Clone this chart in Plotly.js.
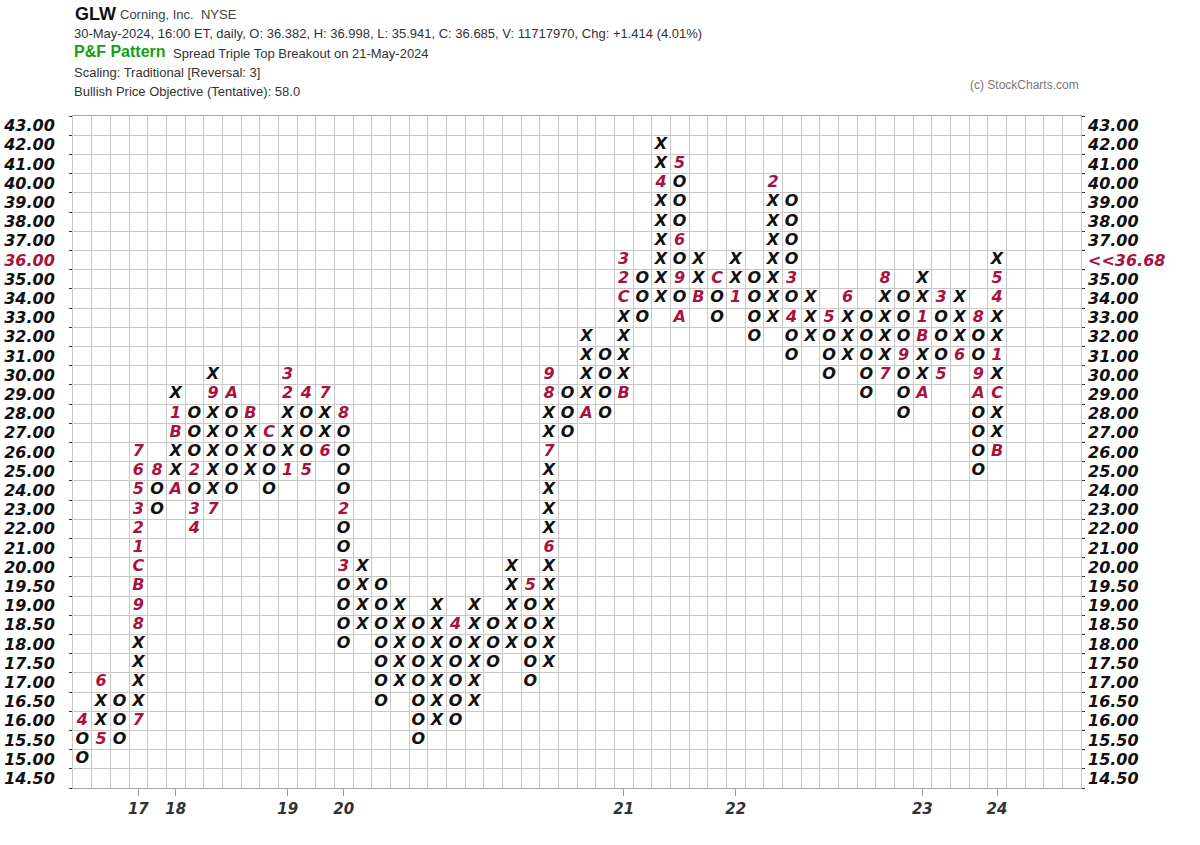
<!DOCTYPE html>
<html>
<head>
<meta charset="utf-8">
<script src="https://cdn.plot.ly/plotly-3.0.1.min.js"></script>
<style>html,body{margin:0;padding:0;background:#fff;}#chart{width:1200px;height:845px;}</style>
</head>
<body>
<div id="chart"></div>
<script>
// ---- Data ----
// Box price levels (bottom to top)
const priceLevels = [14.5,15,15.5,16,16.5,17,17.5,18,18.5,19,19.5,20,21,22,23,24,25,26,27,28,29,30,31,32,33,34,35,36,37,38,39,40,41,42,43];
// Column kinds, lows and highs (in price)
const colKind = ['O','X','O','X','O','X','O','X','O','X','O','X','O','X','O','X','O','X','O','X','O','X','O','X','O','X','O','X','O','X','O','X','O','X','O','X','O','X','O','X','O','X','O','X','O','X','O','X','O','X'];
const colLow  = [15,15.5,15.5,16,23,24,22,23,24,25,24,25,25,26,18,18.5,16.5,17,15.5,16,16,16.5,17.5,18,17,17.5,27,28,28,29,33,34,33,34,33,34,32,33,31,32,30,31,29,30,28,29,30,31,25,26];
const colHigh = [16,17,16.5,26,25,29,28,30,29,28,27,30,29,29,28,20,19.5,19,18.5,19,18.5,19,18.5,20,19.5,30,29,32,31,36,35,42,41,36,35,36,35,40,39,34,33,34,33,35,34,35,34,34,33,36];
// Month markers: column, price, label
const markCol   = [0,1,1,3,3,3,3,3,3,3,3,3,3,3,4,5,5,5,6,6,6,7,7,8,9,10,11,11,11,12,12,13,13,14,14,14,20,24,25,25,25,25,27,29,29,29,29,31,32,32,32,32,33,34,35,37,38,38,40,41,43,43,44,45,45,45,46,46,47,48,48,48,49,49,49,49,49];
const markPrice = [16,15.5,17,16,18.5,19,19.5,20,21,22,23,24,25,26,25,24,27,28,25,23,22,23,29,29,28,27,25,29,30,29,25,26,29,28,23,20,18.5,19.5,21,26,29,30,28,29,34,35,36,40,41,37,35,33,34,35,34,40,35,33,33,34,30,35,31,29,32,33,34,30,31,33,30,29,26,29,31,34,35];
const markLabel = ['4','5','6','7','8','9','B','C','1','2','3','5','6','7','8','A','B','1','2','3','4','7','9','A','B','C','1','2','3','4','5','6','7','8','2','3','4','5','6','7','8','9','A','B','C','2','3','4','5','6','9','A','B','C','1','2','3','4','5','6','7','8','9','A','B','1','3','5','6','8','9','A','B','C','1','4','5'];
// Year ticks
const yearCols   = [3,5,11,14,29,35,45,49];
const yearLabels = ['17','18','19','20','21','22','23','24'];
const lastPrice = 36.68;
const lastBox = 36;

// ---- Build traces ----
const idx = p => priceLevels.indexOf(p);
const markKey = {};
markCol.forEach((c,i)=>{ markKey[c+'|'+markPrice[i]] = markLabel[i]; });

const xX=[],yX=[],xO=[],yO=[],xM=[],yM=[],tM=[];
colKind.forEach((k,c)=>{
  const lo = idx(colLow[c]), hi = idx(colHigh[c]);
  for(let r=lo;r<=hi;r++){
    const key = c+'|'+priceLevels[r];
    if(markKey[key]!==undefined){ xM.push(c); yM.push(r); tM.push(markKey[key]); }
    else if(k==='X'){ xX.push(c); yX.push(r); }
    else { xO.push(c); yO.push(r); }
  }
});

const symFont = {family:'DejaVu Sans', size:16, color:'#111', style:'italic', weight:'bold'};
const redCol = '#a8123e';
const traces = [
  {type:'scatter', mode:'text', x:xX, y:yX, text:xX.map(()=>'X'), textfont:symFont, textposition:'middle center', hoverinfo:'skip', showlegend:false, cliponaxis:false},
  {type:'scatter', mode:'text', x:xO, y:yO, text:xO.map(()=>'O'), textfont:symFont, textposition:'middle center', hoverinfo:'skip', showlegend:false, cliponaxis:false},
  {type:'scatter', mode:'text', x:xM, y:yM, yaxis:'y2', text:tM, textfont:Object.assign({},symFont,{color:redCol}), textposition:'middle center', hoverinfo:'skip', showlegend:false, cliponaxis:false}
];

const rowIdx = priceLevels.map((p,i)=>i);
const leftText = priceLevels.map(p => p===lastBox ? '<span style="color:'+redCol+'">'+p.toFixed(2)+'</span>' : p.toFixed(2));
const rightText = priceLevels.map(p => p===lastBox ? '<span style="color:'+redCol+'">&lt;&lt;'+lastPrice.toFixed(2)+'</span>' : p.toFixed(2));
const rowBounds = []; for(let i=0;i<=priceLevels.length;i++) rowBounds.push(i-0.5);
const colBounds = []; for(let i=0;i<=colKind.length+4;i++) colBounds.push(i-0.5);
const nCols = 54;

const tickFont = {family:'DejaVu Sans', size:16, color:'#111', style:'italic', weight:'bold'};
const gridC = '#c8c8c8';

const yBase = {
  range:[-0.5, priceLevels.length-0.5], tickmode:'array', tickvals:rowIdx,
  showgrid:false, zeroline:false, ticks:'', tickfont:tickFont, fixedrange:true,
  minor:{tickmode:'array', tickvals:rowBounds, showgrid:true, gridcolor:gridC, gridwidth:1, ticks:'outside', ticklen:3, tickcolor:'#333'}
};

const hdrFont = {family:'Liberation Sans', size:13, color:'#333'};
const layout = {
  width:1200, height:845,
  margin:{l:73, r:119, t:116, b:57},
  paper_bgcolor:'#fff', plot_bgcolor:'#fff',
  showlegend:false,
  xaxis:{
    range:[-0.5, nCols-0.5], tickmode:'array', tickvals:yearCols, ticktext:yearLabels,
    ticks:'outside', ticklen:7, tickcolor:'#999', showgrid:false, zeroline:false,
    showline:true, linecolor:'#aaa', linewidth:1, mirror:true,
    tickfont:{family:'DejaVu Sans', size:15, color:'#333', style:'italic', weight:'bold'},
    minor:{tickmode:'array', tickvals:colBounds, showgrid:true, gridcolor:gridC, gridwidth:1, ticks:''},
    fixedrange:true
  },
  yaxis:Object.assign({}, yBase, {ticktext:leftText, side:'left', ticklabelstandoff:14, showline:true, linecolor:gridC, mirror:true}),
  yaxis2:Object.assign({}, yBase, {ticktext:rightText, side:'right', overlaying:'y', ticklabelstandoff:6}),
  annotations:[
    {xref:'paper', yref:'paper', x:(73-73)/1008, y:(788-14)/672, xanchor:'left', yanchor:'middle', showarrow:false, text:'<b>GLW</b>', font:{family:'Liberation Sans', size:18, color:'#111'}},
    {xref:'paper', yref:'paper', x:(118-73)/1008, y:(788-15)/672, xanchor:'left', yanchor:'middle', showarrow:false, text:'Corning, Inc.  NYSE', font:{family:'Liberation Sans', size:13, color:'#444'}},
    {xref:'paper', yref:'paper', x:(72-73)/1008, y:(788-33)/672, xanchor:'left', yanchor:'middle', showarrow:false, text:'30-May-2024, 16:00 ET, daily, O: 36.382, H: 36.998, L: 35.941, C: 36.685, V: 11717970, Chg: +1.414 (4.01%)', font:hdrFont},
    {xref:'paper', yref:'paper', x:(72-73)/1008, y:(788-52)/672, xanchor:'left', yanchor:'middle', showarrow:false, text:'<b>P&amp;F Pattern</b>', font:{family:'Liberation Sans', size:16, color:'#12a012'}},
    {xref:'paper', yref:'paper', x:(171-73)/1008, y:(788-53)/672, xanchor:'left', yanchor:'middle', showarrow:false, text:'Spread Triple Top Breakout on 21-May-2024', font:hdrFont},
    {xref:'paper', yref:'paper', x:(72-73)/1008, y:(788-72)/672, xanchor:'left', yanchor:'middle', showarrow:false, text:'Scaling: Traditional [Reversal: 3]', font:hdrFont},
    {xref:'paper', yref:'paper', x:(72-73)/1008, y:(788-91)/672, xanchor:'left', yanchor:'middle', showarrow:false, text:'Bullish Price Objective (Tentative): 58.0', font:hdrFont},
    {xref:'paper', yref:'paper', x:(968-73)/1008, y:(788-85)/672, xanchor:'left', yanchor:'middle', showarrow:false, text:'(c) StockCharts.com', font:{family:'Liberation Sans', size:12, color:'#777'}}
  ]
};

Plotly.newPlot('chart', traces, layout, {displayModeBar:false, staticPlot:true});
</script>
</body>
</html>
